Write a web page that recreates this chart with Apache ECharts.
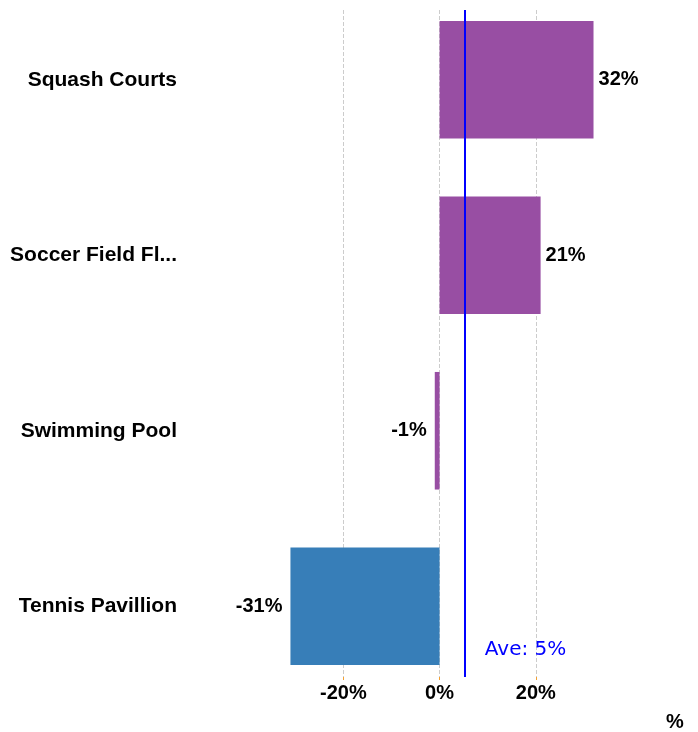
<!DOCTYPE html>
<html>
<head>
<meta charset="utf-8">
<script src="https://cdn.jsdelivr.net/npm/echarts@6/dist/echarts.min.js"></script>
<style>
  html, body { margin: 0; padding: 0; background: #fff; }
  #chart { width: 698px; height: 732px; }
</style>
</head>
<body>
<div id="chart"></div>
<script>
const categories = ['Squash Courts', 'Soccer Field Fl...', 'Swimming Pool', 'Tennis Pavillion']
// two colour groups, '-' = no bar for that row
const purpleValues = [32, 21, -1, '-']
const blueValues = ['-', '-', '-', -31]

const allValues = [...purpleValues, ...blueValues].filter(v => v !== '-')
const average = allValues.reduce((a, b) => a + b, 0) / allValues.length
const xMin = -31.3
const xMax = 32.1

const FONT = '"Liberation Sans", Arial, sans-serif'
const boldText = { fontFamily: FONT, fontWeight: 'bold', fontSize: 20, color: '#000' }

function withLabels(values) {
  return values.map(v => v === '-' ? '-' : {
    value: v,
    label: v < 0 ? { position: 'left', distance: 8 } : { position: 'right', distance: 5 },
  })
}

const chart = echarts.init(document.getElementById('chart'))
chart.setOption({
  animation: false,
  grid: [
    { left: 289, right: 104, top: 10, bottom: 55, outerBoundsMode: 'none' },
    { left: 289, right: 104, top: -8, bottom: 38, outerBoundsMode: 'none' },
  ],
  xAxis: [{
    gridIndex: 0,
    type: 'value',
    min: xMin,
    max: xMax,
    splitNumber: 3,
    axisLine: { show: false },
    axisTick: { show: true, length: 3, lineStyle: { color: '#f5a030' } },
    axisLabel: { ...boldText, margin: 6, formatter: '{value}%', showMinLabel: false, showMaxLabel: false },
    splitLine: { show: true, showMinLine: false, showMaxLine: false, lineStyle: { type: 'dashed', color: '#cccccc' } },
  }, {
    gridIndex: 1,
    type: 'value',
    min: xMin,
    max: xMax,
    show: false,
    splitLine: { show: false },
  }],
  yAxis: [{
    gridIndex: 0,
    type: 'value',
    min: 0,
    max: 1,
    show: false,
  }, {
    gridIndex: 1,
    type: 'category',
    inverse: true,
    data: categories,
    axisLine: { show: false },
    axisTick: { show: false },
    axisLabel: { ...boldText, fontSize: 21, margin: 112, padding: [3, 0, 0, 0] },
  }],
  graphic: [{
    type: 'text',
    left: 666,
    top: 712,
    style: { text: '%', font: 'bold 20px ' + FONT, fill: '#000' },
  }],
  series: [{
    type: 'bar',
    xAxisIndex: 1,
    yAxisIndex: 1,
    stack: 'all',
    barCategoryGap: '33%',
    itemStyle: { color: '#984ea3' },
    label: { show: true, ...boldText, formatter: '{c}%' },
    data: withLabels(purpleValues),
  }, {
    type: 'bar',
    xAxisIndex: 1,
    yAxisIndex: 1,
    stack: 'all',
    barCategoryGap: '33%',
    itemStyle: { color: '#377eb8' },
    label: { show: true, ...boldText, formatter: '{c}%' },
    data: withLabels(blueValues),
  }, {
    type: 'line',
    xAxisIndex: 0,
    yAxisIndex: 0,
    data: [],
    markLine: {
      silent: true,
      symbol: 'none',
      lineStyle: { color: '#0000ff', width: 2, type: 'solid' },
      label: {
        show: true,
        position: 'start',
        distance: [0, -27],
        align: 'left',
        verticalAlign: 'middle',
        padding: [0, 0, 0, 20],
        color: '#0000ff',
        fontFamily: '"DejaVu Sans", Verdana, sans-serif',
        fontSize: 20,
        formatter: () => 'Ave: ' + Math.round(average) + '%',
      },
      data: [{ xAxis: average }],
    },
  }],
})
</script>
</body>
</html>
